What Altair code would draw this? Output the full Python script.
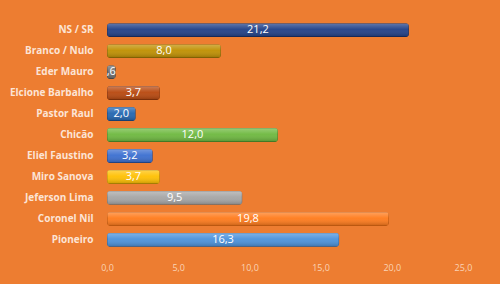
import altair as alt
import pandas as pd

categories = ["NS / SR", "Branco / Nulo", "Eder Mauro", "Elcione Barbalho", "Pastor Raul",
              "Chicão", "Eliel Faustino", "Miro Sanova", "Jeferson Lima", "Coronel Nil", "Pioneiro"]
values = [21.2, 8.0, 0.6, 3.7, 2.0, 12.0, 3.2, 3.7, 9.5, 19.8, 16.3]
value_labels = ["21,2", "8,0", ",6", "3,7", "2,0", "12,0", "3,2", "3,7", "9,5", "19,8", "16,3"]
colors = ["#1F3F87", "#BF8F00", "#6E6E6E", "#B8470D", "#2265B0", "#6DB83E",
          "#3A6ED0", "#FFC000", "#A5A5A5", "#FF7A1A", "#4A91DB"]
strokes = ["#0F1F4A", "#7A5A00", "#3A3A3A", "#7A2A05", "#123A70", "#3F7A20",
           "#1F3F80", "#B08500", "#6A6A6A", "#B04A00", "#2A5A90"]
x_ticks = [0, 5, 10, 15, 20, 25]

df = pd.DataFrame({"cat": categories, "val": values, "lab": value_labels,
                   "color": colors, "stroke": strokes})
df["mid"] = df["val"] / 2

y = alt.Y("cat:N", sort=categories, title=None,
          scale=alt.Scale(paddingInner=0.34, paddingOuter=0.2),
          axis=alt.Axis(domain=False, ticks=False, labelColor="#FCE4D6", labelFont="Open Sans",
                        labelFontWeight="bold", labelFontSize=10, labelPadding=14))
x = alt.X("val:Q", title=None,
          scale=alt.Scale(domain=[0, 25], nice=False),
          axis=alt.Axis(values=x_ticks, domain=False, ticks=False, grid=False, labelFlush=False,
                        labelExpr="replace(format(datum.value, '.1f'), '.', ',')",
                        labelColor="#FAD3B5", labelFont="Open Sans", labelFontSize=9,
                        labelPadding=12))

bars = alt.Chart(df).mark_bar(cornerRadius=3, strokeWidth=1).encode(
    x=x, y=y,
    color=alt.Color("color:N", scale=None),
    stroke=alt.Stroke("stroke:N", scale=None),
)

gloss = alt.Chart(df).mark_bar(
    cornerRadius=3,
    color=alt.Gradient(
        gradient="linear", x1=0, x2=0, y1=0, y2=1,
        stops=[alt.GradientStop(offset=0, color="rgba(255,255,255,0.30)"),
               alt.GradientStop(offset=0.45, color="rgba(255,255,255,0.05)"),
               alt.GradientStop(offset=1, color="rgba(0,0,0,0.22)")],
    ),
).encode(x=alt.X("val:Q"), y=alt.Y("cat:N", sort=categories))

text = alt.Chart(df).mark_text(color="white", font="Open Sans", fontSize=11).encode(
    x=alt.X("mid:Q"), y=alt.Y("cat:N", sort=categories), text="lab:N"
)

chart = (bars + gloss + text).properties(
    width=356, height=232,
    background="#ED7D31",
    autosize=alt.AutoSizeParams(type="none"),
    padding={"left": 107, "top": 19, "right": 37, "bottom": 33},
).configure_view(stroke=None)

chart.save("out.html", embed_options={"renderer": "svg", "actions": False})
